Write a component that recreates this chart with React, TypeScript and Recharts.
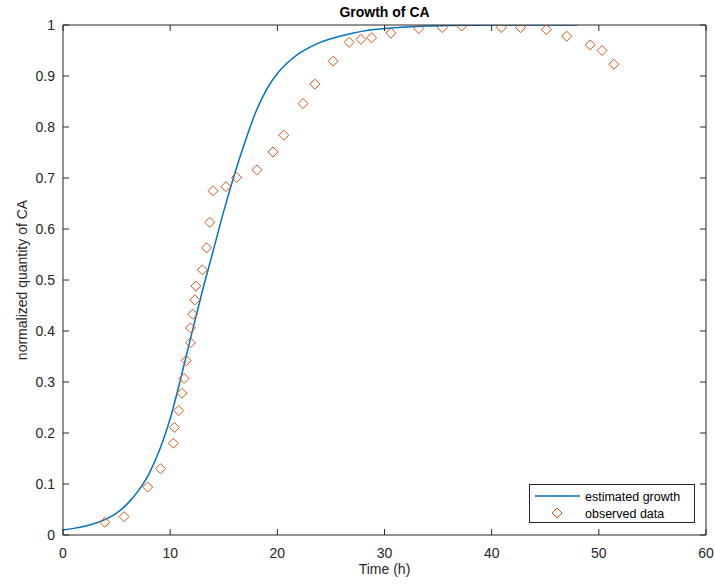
import React from "react";
import { ComposedChart, Line, Scatter, XAxis, YAxis } from "recharts";

// fitted growth curve at whole hours
const curveTime = [0, 1, 2, 3, 4, 5, 6, 7, 8, 9, 10, 11, 12, 13, 14, 15, 16, 17, 18, 19, 20, 21, 22, 23, 24, 25, 26, 27, 28, 29, 30, 32, 34, 36, 38, 40, 44, 48];
const curveValue = [0.01, 0.013, 0.017, 0.023, 0.031, 0.043, 0.061, 0.086, 0.119, 0.166, 0.228, 0.308, 0.394, 0.478, 0.556, 0.635, 0.707, 0.772, 0.83, 0.874, 0.905, 0.927, 0.944, 0.956, 0.966, 0.973, 0.979, 0.984, 0.988, 0.991, 0.993, 0.996, 0.998, 0.999, 0.9995, 1, 1, 1];

// observed points
const obsTime = [3.9, 5.7, 7.9, 9.1, 10.3, 10.4, 10.8, 11.1, 11.3, 11.5, 11.9, 11.9, 12.1, 12.3, 12.4, 13.0, 13.4, 13.7, 14.0, 15.2, 16.2, 18.1, 19.6, 20.6, 22.4, 23.5, 25.2, 26.7, 27.8, 28.8, 30.6, 33.2, 35.4, 37.2, 40.9, 42.7, 45.1, 47.0, 49.2, 50.3, 51.4];
const obsValue = [0.025, 0.036, 0.094, 0.13, 0.18, 0.211, 0.244, 0.278, 0.307, 0.342, 0.377, 0.406, 0.433, 0.461, 0.488, 0.52, 0.563, 0.613, 0.675, 0.683, 0.701, 0.716, 0.751, 0.784, 0.846, 0.884, 0.929, 0.966, 0.972, 0.975, 0.984, 0.993, 0.995, 0.998, 0.995, 0.995, 0.991, 0.978, 0.961, 0.95, 0.923];

const xTicks = [0, 10, 20, 30, 40, 50, 60];
const yTicks = [0, 0.1, 0.2, 0.3, 0.4, 0.5, 0.6, 0.7, 0.8, 0.9, 1];

const curve = curveTime.map((t, i) => ({ t, v: curveValue[i] }));
const observed = obsTime.map((t, i) => ({ t, v: obsValue[i] }));

const FONT = "'Liberation Sans', Arial, Helvetica, sans-serif";
const INK = "#262626";
const BLUE = "#0072BD";
const ORANGE = "#D95319";

const Diamond = ({ cx, cy }: any) => (
  <polygon
    points={`${cx},${cy - 5} ${cx + 5},${cy} ${cx},${cy + 5} ${cx - 5},${cy}`}
    fill="none"
    stroke={ORANGE}
    strokeWidth={1}
  />
);

const BottomTick = ({ x, y, payload }: any) => (
  <g>
    <line x1={x} x2={x} y1={y} y2={y - 6} stroke={INK} />
    <text x={x} y={y + 23} textAnchor="middle" fontSize={14} fill={INK} fontFamily={FONT}>
      {payload.value}
    </text>
  </g>
);

const TopTick = ({ x, y }: any) => <line x1={x} x2={x} y1={y} y2={y + 6} stroke={INK} />;

const LeftTick = ({ x, y, payload }: any) => (
  <g>
    <line x1={x} x2={x + 6} y1={y} y2={y} stroke={INK} />
    <text x={x - 8} y={y + 5} textAnchor="end" fontSize={14} fill={INK} fontFamily={FONT}>
      {payload.value}
    </text>
  </g>
);

const RightTick = ({ x, y }: any) => <line x1={x} x2={x - 6} y1={y} y2={y} stroke={INK} />;

export default function App() {
  return (
    <div style={{ position: "relative", width: 715, height: 586, background: "#fff" }}>
      <style>{"body{margin:0}"}</style>
      <ComposedChart width={715} height={586} margin={{ top: 24, right: 8, bottom: 0, left: 0 }}>
        <XAxis
          xAxisId="b"
          dataKey="t"
          type="number"
          domain={[0, 60]}
          ticks={xTicks}
          height={51}
          tickSize={0}
          tickMargin={0}
          tickLine={false}
          axisLine={{ stroke: INK }}
          tick={<BottomTick />}
          allowDataOverflow
        />
        <XAxis
          xAxisId="top"
          dataKey="t"
          orientation="top"
          type="number"
          domain={[0, 60]}
          ticks={xTicks}
          height={1}
          tickSize={0}
          tickMargin={0}
          tickLine={false}
          axisLine={{ stroke: INK }}
          tick={<TopTick />}
          allowDataOverflow
        />
        <YAxis
          yAxisId="l"
          type="number"
          domain={[0, 1]}
          ticks={yTicks}
          width={63}
          tickSize={0}
          tickMargin={0}
          tickLine={false}
          axisLine={{ stroke: INK }}
          tick={<LeftTick />}
          allowDataOverflow
        />
        <YAxis
          yAxisId="right"
          orientation="right"
          type="number"
          domain={[0, 1]}
          ticks={yTicks}
          width={1}
          tickSize={0}
          tickMargin={0}
          tickLine={false}
          axisLine={{ stroke: INK }}
          tick={<RightTick />}
          allowDataOverflow
        />
        {/* invisible series so the box axes (top / right) get drawn */}
        <Line
          xAxisId="top"
          yAxisId="right"
          data={curve}
          dataKey="v"
          stroke="none"
          dot={false}
          activeDot={false}
          legendType="none"
          isAnimationActive={false}
        />
        <Line
          xAxisId="b"
          yAxisId="l"
          data={curve}
          dataKey="v"
          type="monotone"
          stroke={BLUE}
          strokeWidth={1.5}
          dot={false}
          isAnimationActive={false}
        />
        <Scatter
          xAxisId="b"
          yAxisId="l"
          data={observed}
          dataKey="v"
          shape={<Diamond />}
          isAnimationActive={false}
        />
      </ComposedChart>

      <div style={{ position: "absolute", left: 0, top: 4, width: 769, textAlign: "center", fontFamily: FONT, fontWeight: "bold", fontSize: 14, color: "#000" }}>
        Growth of CA
      </div>
      <div style={{ position: "absolute", left: 63, top: 561, width: 643, textAlign: "center", fontFamily: FONT, fontSize: 14, color: INK }}>
        Time (h)
      </div>
      <div
        style={{
          position: "absolute",
          left: 22,
          top: 280,
          transform: "translate(-50%, -50%) rotate(-90deg)",
          whiteSpace: "nowrap",
          fontFamily: FONT,
          fontSize: 14,
          color: INK,
        }}
      >
        normalized quantity of CA
      </div>

      <svg style={{ position: "absolute", left: 529, top: 484 }} width={166} height={40}>
        <rect x={0.5} y={0.5} width={165} height={38} fill="#fff" stroke={INK} />
        <line x1={6} x2={51} y1={12} y2={12} stroke={BLUE} strokeWidth={1.5} />
        <polygon points="28,24 33,29 28,34 23,29" fill="none" stroke={ORANGE} />
        <text x={56} y={16.5} fontSize={12.5} fill="#000" fontFamily={FONT}>estimated growth</text>
        <text x={56} y={33.5} fontSize={12.5} fill="#000" fontFamily={FONT}>observed data</text>
      </svg>
    </div>
  );
}
